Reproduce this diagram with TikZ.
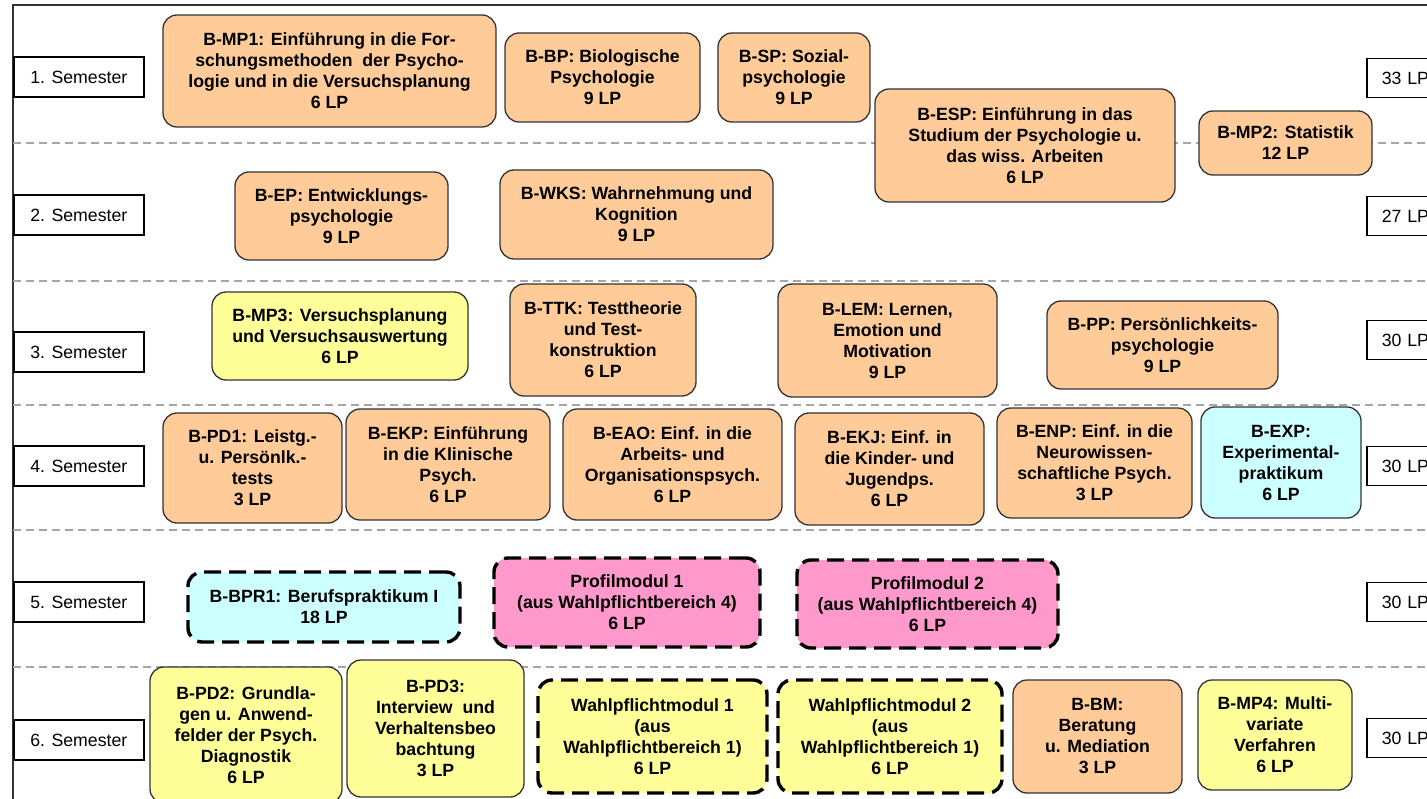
\documentclass[tikz,border=0pt]{standalone}
\usepackage{fontspec}
\setmainfont{Liberation Sans}
\definecolor{orng}{HTML}{FFCC99}
\definecolor{yllw}{HTML}{FFFF99}
\definecolor{cyn}{HTML}{CCFFFF}
\definecolor{pnk}{HTML}{FF99CC}
\definecolor{edgec}{HTML}{333333}
\definecolor{sepc}{HTML}{A6A6A6}
\newcommand\modfont{\fontsize{17.7}{21}\selectfont\bfseries}
\newcommand\labfont{\fontsize{17.7}{21}\selectfont}
\newcommand{\modul}[7]{%
  \pgfmathsetmacro\mw{#4-#2}\pgfmathsetmacro\mh{#5-#3}%
  \node[#6, minimum width=\mw pt, minimum height=\mh pt] (#1) at ({(#2+#4)/2},{(#3+#5)/2}) {#7};}
\tikzset{
  modbase/.style={rounded corners=14pt, inner sep=0pt, align=center, font=\modfont, text=black},
  solidbox/.style={modbase, draw=edgec, line width=1.3pt},
  dashbox/.style={modbase, draw=black, line width=3.4pt, dash pattern=on 17pt off 8pt},
  orangebox/.style={solidbox, fill=orng},
  yellowbox/.style={solidbox, fill=yllw},
  cyanbox/.style={solidbox, fill=cyn},
  cyandash/.style={dashbox, fill=cyn},
  pinkdash/.style={dashbox, fill=pnk},
  yellowdash/.style={dashbox, fill=yllw},
  semlabel/.style={draw=black, line width=1.6pt, fill=white, font=\labfont, minimum width=130pt, minimum height=40pt, inner sep=0pt, anchor=west},
  lplabel/.style={draw=black, line width=1.6pt, fill=white, font=\labfont, minimum width=80pt, minimum height=39pt, inner xsep=15pt, inner ysep=0pt, anchor=west, text width=50pt, align=left},
  sepline/.style={draw=sepc, line width=2pt, dash pattern=on 8pt off 5pt},
  frameline/.style={draw=edgec, line width=2pt}
}
\begin{document}
\begin{tikzpicture}[x=1pt,y=-1pt]
\clip (0,0) rectangle (1427,799);
\fill[white] (0,0) rectangle (1427,799);
% frame
\coordinate (ftl) at (13,5);
\coordinate (ftr) at (1430,5);
\coordinate (fbl) at (13,802);
\draw[frameline] (ftr) -- (ftl) -- (fbl);
% separators
\foreach \yy/\nm in {143/s1,281/s2,405/s3,530/s4,667/s5}{
  \coordinate (\nm a) at (13,\yy);
  \coordinate (\nm b) at (1430,\yy);
  \draw[sepline] (\nm a) -- (\nm b);
}
% semester labels
\node[semlabel] (sem1) at (13,77) {1. Semester};
\node[semlabel] (sem2) at (13,215) {2. Semester};
\node[semlabel] (sem3) at (13,352) {3. Semester};
\node[semlabel] (sem4) at (13,466) {4. Semester};
\node[semlabel] (sem5) at (13,602) {5. Semester};
\node[semlabel] (sem6) at (13,740) {6. Semester};
% LP labels
\node[lplabel] (lp1) at (1366,78) {33 LP};
\node[lplabel] (lp2) at (1366,216) {27 LP};
\node[lplabel] (lp3) at (1366,340) {30 LP};
\node[lplabel] (lp4) at (1366,466) {30 LP};
\node[lplabel] (lp5) at (1366,602) {30 LP};
\node[lplabel] (lp6) at (1366,738) {30 LP};
% row 1
\modul{mp1}{163}{15}{496}{127}{orangebox}{B-MP1: Einführung in die For-\\schungsmethoden\ \ der Psycho-\\logie und in die Versuchsplanung\\6 LP}
\modul{bp}{505}{33}{700}{122}{orangebox}{B-BP: Biologische\\Psychologie\\9 LP}
\modul{sp}{718}{33}{870}{122}{orangebox}{B-SP: Sozial-\\psychologie\\9 LP}
\modul{esp}{875}{89}{1175}{202}{orangebox}{B-ESP: Einführung in das\\Studium der Psychologie u.\\das wiss. Arbeiten\\6 LP}
\modul{mp2}{1199}{111}{1372}{175}{orangebox}{B-MP2: Statistik\\12 LP}
% row 2
\modul{ep}{235}{172}{448}{260}{orangebox}{B-EP: Entwicklungs-\\psychologie\\9 LP}
\modul{wks}{500}{170}{773}{259}{orangebox}{B-WKS: Wahrnehmung und\\Kognition\\9 LP}
% row 3
\modul{mp3}{212}{292}{468}{380}{yellowbox}{B-MP3: Versuchsplanung\\und Versuchsauswertung\\6 LP}
\modul{ttk}{510}{284}{696}{396}{orangebox}{B-TTK: Testtheorie\\und Test-\\konstruktion\\6 LP}
\modul{lem}{778}{284}{997}{397}{orangebox}{B-LEM: Lernen,\\Emotion und\\Motivation\\9 LP}
\modul{pp}{1047}{301}{1278}{389}{orangebox}{B-PP: Persönlichkeits-\\psychologie\\9 LP}
% row 4
\modul{pd1}{163}{413}{342}{523}{orangebox}{B-PD1: Leistg.-\\u. Persönlk.-\\tests\\3 LP}
\modul{ekp}{346}{409}{550}{520}{orangebox}{B-EKP: Einführung\\in die Klinische\\Psych.\\6 LP}
\modul{eao}{563}{409}{782}{520}{orangebox}{B-EAO: Einf. in die\\Arbeits- und\\Organisationspsych.\\6 LP}
\modul{ekj}{795}{413}{984}{525}{orangebox}{B-EKJ: Einf. in\\die Kinder- und\\Jugendps.\\6 LP}
\modul{enp}{997}{408}{1192}{518}{orangebox}{B-ENP: Einf. in die\\Neurowissen-\\schaftliche Psych.\\3 LP}
\modul{exp}{1201}{407}{1361}{518}{cyanbox}{B-EXP:\\Experimental-\\praktikum\\6 LP}
% row 5
\modul{bpr1}{188}{572}{460}{642}{cyandash}{B-BPR1: Berufspraktikum I\\18 LP}
\modul{prof1}{494}{558}{760}{647}{pinkdash}{Profilmodul 1\\(aus Wahlpflichtbereich 4)\\6 LP}
\modul{prof2}{797}{560}{1058}{648}{pinkdash}{Profilmodul 2\\(aus Wahlpflichtbereich 4)\\6 LP}
% row 6
\modul{pd2}{150}{667}{342}{803}{yellowbox}{B-PD2: Grundla-\\gen u. Anwend-\\felder der Psych.\\Diagnostik\\6 LP}
\modul{pd3}{347}{660}{524}{797}{yellowbox}{B-PD3:\\Interview\ \ und\\Verhaltensbeo\\bachtung\\3 LP}
\modul{wpm1}{538}{680}{767}{793}{yellowdash}{Wahlpflichtmodul 1\\(aus\\Wahlpflichtbereich 1)\\6 LP}
\modul{wpm2}{778}{680}{1002}{793}{yellowdash}{Wahlpflichtmodul 2\\(aus\\Wahlpflichtbereich 1)\\6 LP}
\modul{bm}{1013}{680}{1182}{793}{orangebox}{B-BM:\\Beratung\\u. Mediation\\3 LP}
\modul{mp4}{1198}{680}{1352}{790}{yellowbox}{B-MP4: Multi-\\variate\\Verfahren\\6 LP}
\end{tikzpicture}
\end{document}
